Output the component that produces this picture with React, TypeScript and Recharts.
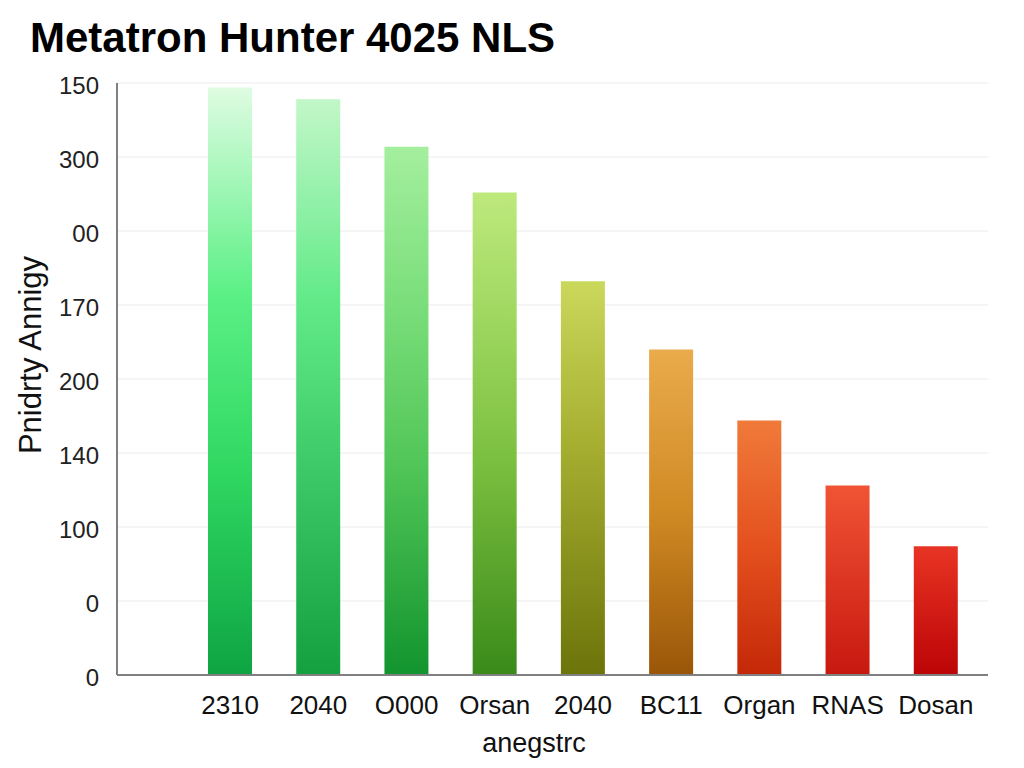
import React from 'react';
import { BarChart, Bar, XAxis, YAxis, CartesianGrid, Cell } from 'recharts';

const categories = ['2310', '2040', 'O000', 'Orsan', '2040', 'BC11', 'Organ', 'RNAS', 'Dosan'];
const values = [397, 389, 357, 326, 266, 220, 172, 128, 87];
const yTicks = [0, 50, 100, 150, 200, 250, 300, 350, 400];
const yTickLabels = ['0', '0', '100', '140', '200', '170', '00', '300', '150'];

const gradients: { offset: number; color: string }[][] = [
  [{ offset: 0, color: '#dffce2' }, { offset: 0.35, color: '#5cf086' }, { offset: 0.65, color: '#30d862' }, { offset: 1, color: '#0ea443' }],
  [{ offset: 0, color: '#c2f7c8' }, { offset: 0.35, color: '#62ea88' }, { offset: 0.65, color: '#3cc866' }, { offset: 1, color: '#14a03e' }],
  [{ offset: 0, color: '#a4ef9e' }, { offset: 0.3, color: '#7ade7a' }, { offset: 0.6, color: '#52c658' }, { offset: 1, color: '#12942e' }],
  [{ offset: 0, color: '#bee97c' }, { offset: 0.25, color: '#a0d862' }, { offset: 0.55, color: '#7cc040' }, { offset: 1, color: '#3a8a1a' }],
  [{ offset: 0, color: '#cad85c' }, { offset: 0.4, color: '#a8b032' }, { offset: 1, color: '#6c740a' }],
  [{ offset: 0, color: '#eaab4c' }, { offset: 0.5, color: '#d08a24' }, { offset: 1, color: '#9a5608' }],
  [{ offset: 0, color: '#f07a3a' }, { offset: 0.5, color: '#e4501e' }, { offset: 1, color: '#c42808' }],
  [{ offset: 0, color: '#f05434' }, { offset: 1, color: '#c81810' }],
  [{ offset: 0, color: '#e83424' }, { offset: 1, color: '#bc0406' }],
];

const data = categories.map((name, i) => ({ name, value: values[i] }));

const FONT = '"Liberation Sans", Arial, Helvetica, sans-serif';

const YTick = (props: any) => {
  const { x, y, payload } = props;
  const label = yTickLabels[yTicks.indexOf(payload.value)];
  return (
    <text
      x={x}
      y={y + 2}
      dy="0.355em"
      textAnchor="end"
      fontSize={24}
      fill="#222"
      fontFamily={FONT}
    >
      {label}
    </text>
  );
};

export default function App() {
  return (
    <div style={{ position: 'fixed', left: 0, top: 0, width: 1024, height: 768, background: '#fff' }}>
      <BarChart
        width={1024}
        height={768}
        data={data}
        margin={{ top: 83, right: 36, bottom: 0, left: 0 }}
      >
        <defs>
          {gradients.map((stops, i) => (
            <linearGradient key={i} id={`barGrad${i}`} x1="0" y1="0" x2="0" y2="1">
              {stops.map((s, j) => (
                <stop key={j} offset={s.offset} stopColor={s.color} />
              ))}
            </linearGradient>
          ))}
        </defs>
        <CartesianGrid vertical={false} stroke="#ebebeb" strokeWidth={1.2} />
        <XAxis
          dataKey="name"
          height={93}
          padding={{ left: 69, right: 8 }}
          tickLine={false}
          tickSize={0}
          tickMargin={21}
          interval={0}
          axisLine={{ stroke: '#808080', strokeWidth: 2 }}
          tick={{ fontSize: 26, fill: '#111', fontFamily: FONT }}
        />
        <YAxis
          width={117}
          domain={[0, 400]}
          ticks={yTicks}
          interval={0}
          tickLine={false}
          tickSize={0}
          tickMargin={18}
          axisLine={{ stroke: '#808080', strokeWidth: 2 }}
          tick={<YTick />}
        />
        <Bar dataKey="value" barSize={44} isAnimationActive={false}>
          {data.map((_, i) => (
            <Cell key={i} fill={`url(#barGrad${i})`} />
          ))}
        </Bar>
      </BarChart>
      <svg
        width={1024}
        height={768}
        style={{ position: 'absolute', left: 0, top: 0, pointerEvents: 'none' }}
      >
        <text x={30} y={52} fontSize={42} fontWeight="bold" fill="#000" fontFamily={FONT}>
          Metatron Hunter 4025 NLS
        </text>
        <text
          x={41}
          y={355}
          fontSize={31}
          fill="#111"
          fontFamily={FONT}
          textAnchor="middle"
          transform="rotate(-90, 41, 355)"
        >
          Pnidrty Annigy
        </text>
        <text x={534} y={752} fontSize={27} fill="#111" fontFamily={FONT} textAnchor="middle">
          anegstrc
        </text>
      </svg>
    </div>
  );
}
